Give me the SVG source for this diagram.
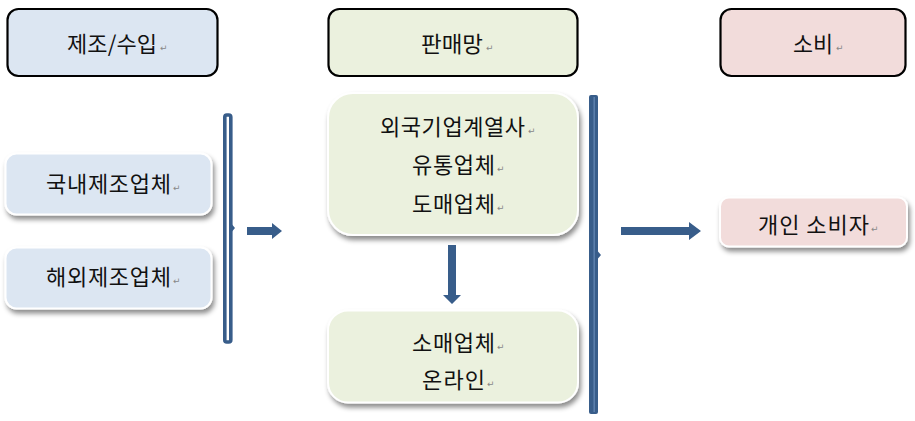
<svg xmlns="http://www.w3.org/2000/svg" width="915" height="421" viewBox="0 0 915 421">
<defs>
<filter id="sh" x="-10%" y="-20%" width="130%" height="150%">
<feDropShadow dx="2" dy="4" stdDeviation="2.5" flood-color="#000" flood-opacity="0.45"/>
</filter>
<style>
.hdr{stroke:#000;stroke-width:2.2}
.nd{stroke:#fff;stroke-width:2;filter:url(#sh)}
.blue{fill:#dce6f2}
.green{fill:#ebf1de}
.pink{fill:#f2dcdb}
.t{font-family:"Noto Sans CJK KR","Malgun Gothic",sans-serif;font-size:22px;fill:#111}
.m{font-family:"DejaVu Sans",sans-serif;font-size:9px;fill:#888}
.ar{fill:#385d8a}
</style>
</defs>
<rect width="915" height="421" fill="#fff"/>

<g id="hdr-make">
<rect class="hdr blue" x="7.5" y="9" width="210" height="67" rx="11"/>
<text class="t" x="67" y="52" textLength="90" lengthAdjust="spacing">제조/수입</text><text class="m" x="160" y="51">↵</text>
</g>
<g id="hdr-sales">
<rect class="hdr green" x="328.5" y="9" width="249" height="67" rx="11"/>
<text class="t" x="421" y="52" textLength="62" lengthAdjust="spacingAndGlyphs">판매망</text><text class="m" x="486" y="51">↵</text>
</g>
<g id="hdr-consume">
<rect class="hdr pink" x="720.5" y="9" width="185" height="67" rx="11"/>
<text class="t" x="793" y="52" textLength="40" lengthAdjust="spacingAndGlyphs">소비</text><text class="m" x="836" y="51">↵</text>
</g>

<g id="node-domestic">
<rect class="nd blue" x="5.5" y="153.5" width="206" height="61" rx="11"/>
<text class="t" x="46" y="192" textLength="125" lengthAdjust="spacing">국내제조업체</text><text class="m" x="173" y="191">↵</text>
</g>
<g id="node-foreign">
<rect class="nd blue" x="5.5" y="247.5" width="206" height="61" rx="11"/>
<text class="t" x="46" y="285" textLength="125" lengthAdjust="spacing">해외제조업체</text><text class="m" x="173" y="284">↵</text>
</g>

<g id="node-wholesale">
<rect class="nd green" x="328" y="93" width="250" height="142" rx="25"/>
<text class="t" x="380" y="135" textLength="145" lengthAdjust="spacing">외국기업계열사</text><text class="m" x="528" y="134">↵</text>
<text class="t" x="412" y="173" textLength="83" lengthAdjust="spacing">유통업체</text><text class="m" x="497" y="172">↵</text>
<text class="t" x="412" y="212" textLength="83" lengthAdjust="spacing">도매업체</text><text class="m" x="497" y="211">↵</text>
</g>
<g id="node-retail">
<rect class="nd green" x="328" y="310.5" width="250" height="92" rx="20"/>
<text class="t" x="412" y="351" textLength="83" lengthAdjust="spacing">소매업체</text><text class="m" x="497" y="350">↵</text>
<text class="t" x="422" y="388" textLength="63" lengthAdjust="spacing">온라인</text><text class="m" x="487" y="387">↵</text>
</g>

<g id="node-consumer">
<rect class="nd pink" x="720" y="197.5" width="187" height="49" rx="9"/>
<text class="t" x="758" y="233" textLength="111" lengthAdjust="spacing">개인 소비자</text><text class="m" x="871" y="232">↵</text>
</g>

<g id="connectors">
<rect x="224.8" y="115" width="6" height="227" rx="2" fill="#fff" stroke="#385d8a" stroke-width="3.6"/>
<polygon class="ar" points="232,224.5 235,228 232,231.5"/>
<polygon class="ar" points="247,227 272,227 272,223 282,231 272,239 272,235 247,235"/>
<rect x="589" y="95" width="9" height="319" rx="2" fill="#385d8a"/>
<line x1="594.2" y1="97" x2="594.2" y2="412" stroke="#5a7eab" stroke-width="1.6"/>
<polygon class="ar" points="598,251.5 601,255 598,258.5"/>
<polygon class="ar" points="621,227 689,227 689,222 701,231 689,240 689,235 621,235"/>
<polygon class="ar" points="448,245 456,245 456,295 461,295 452,304 443,295 448,295"/>
</g>
</svg>
